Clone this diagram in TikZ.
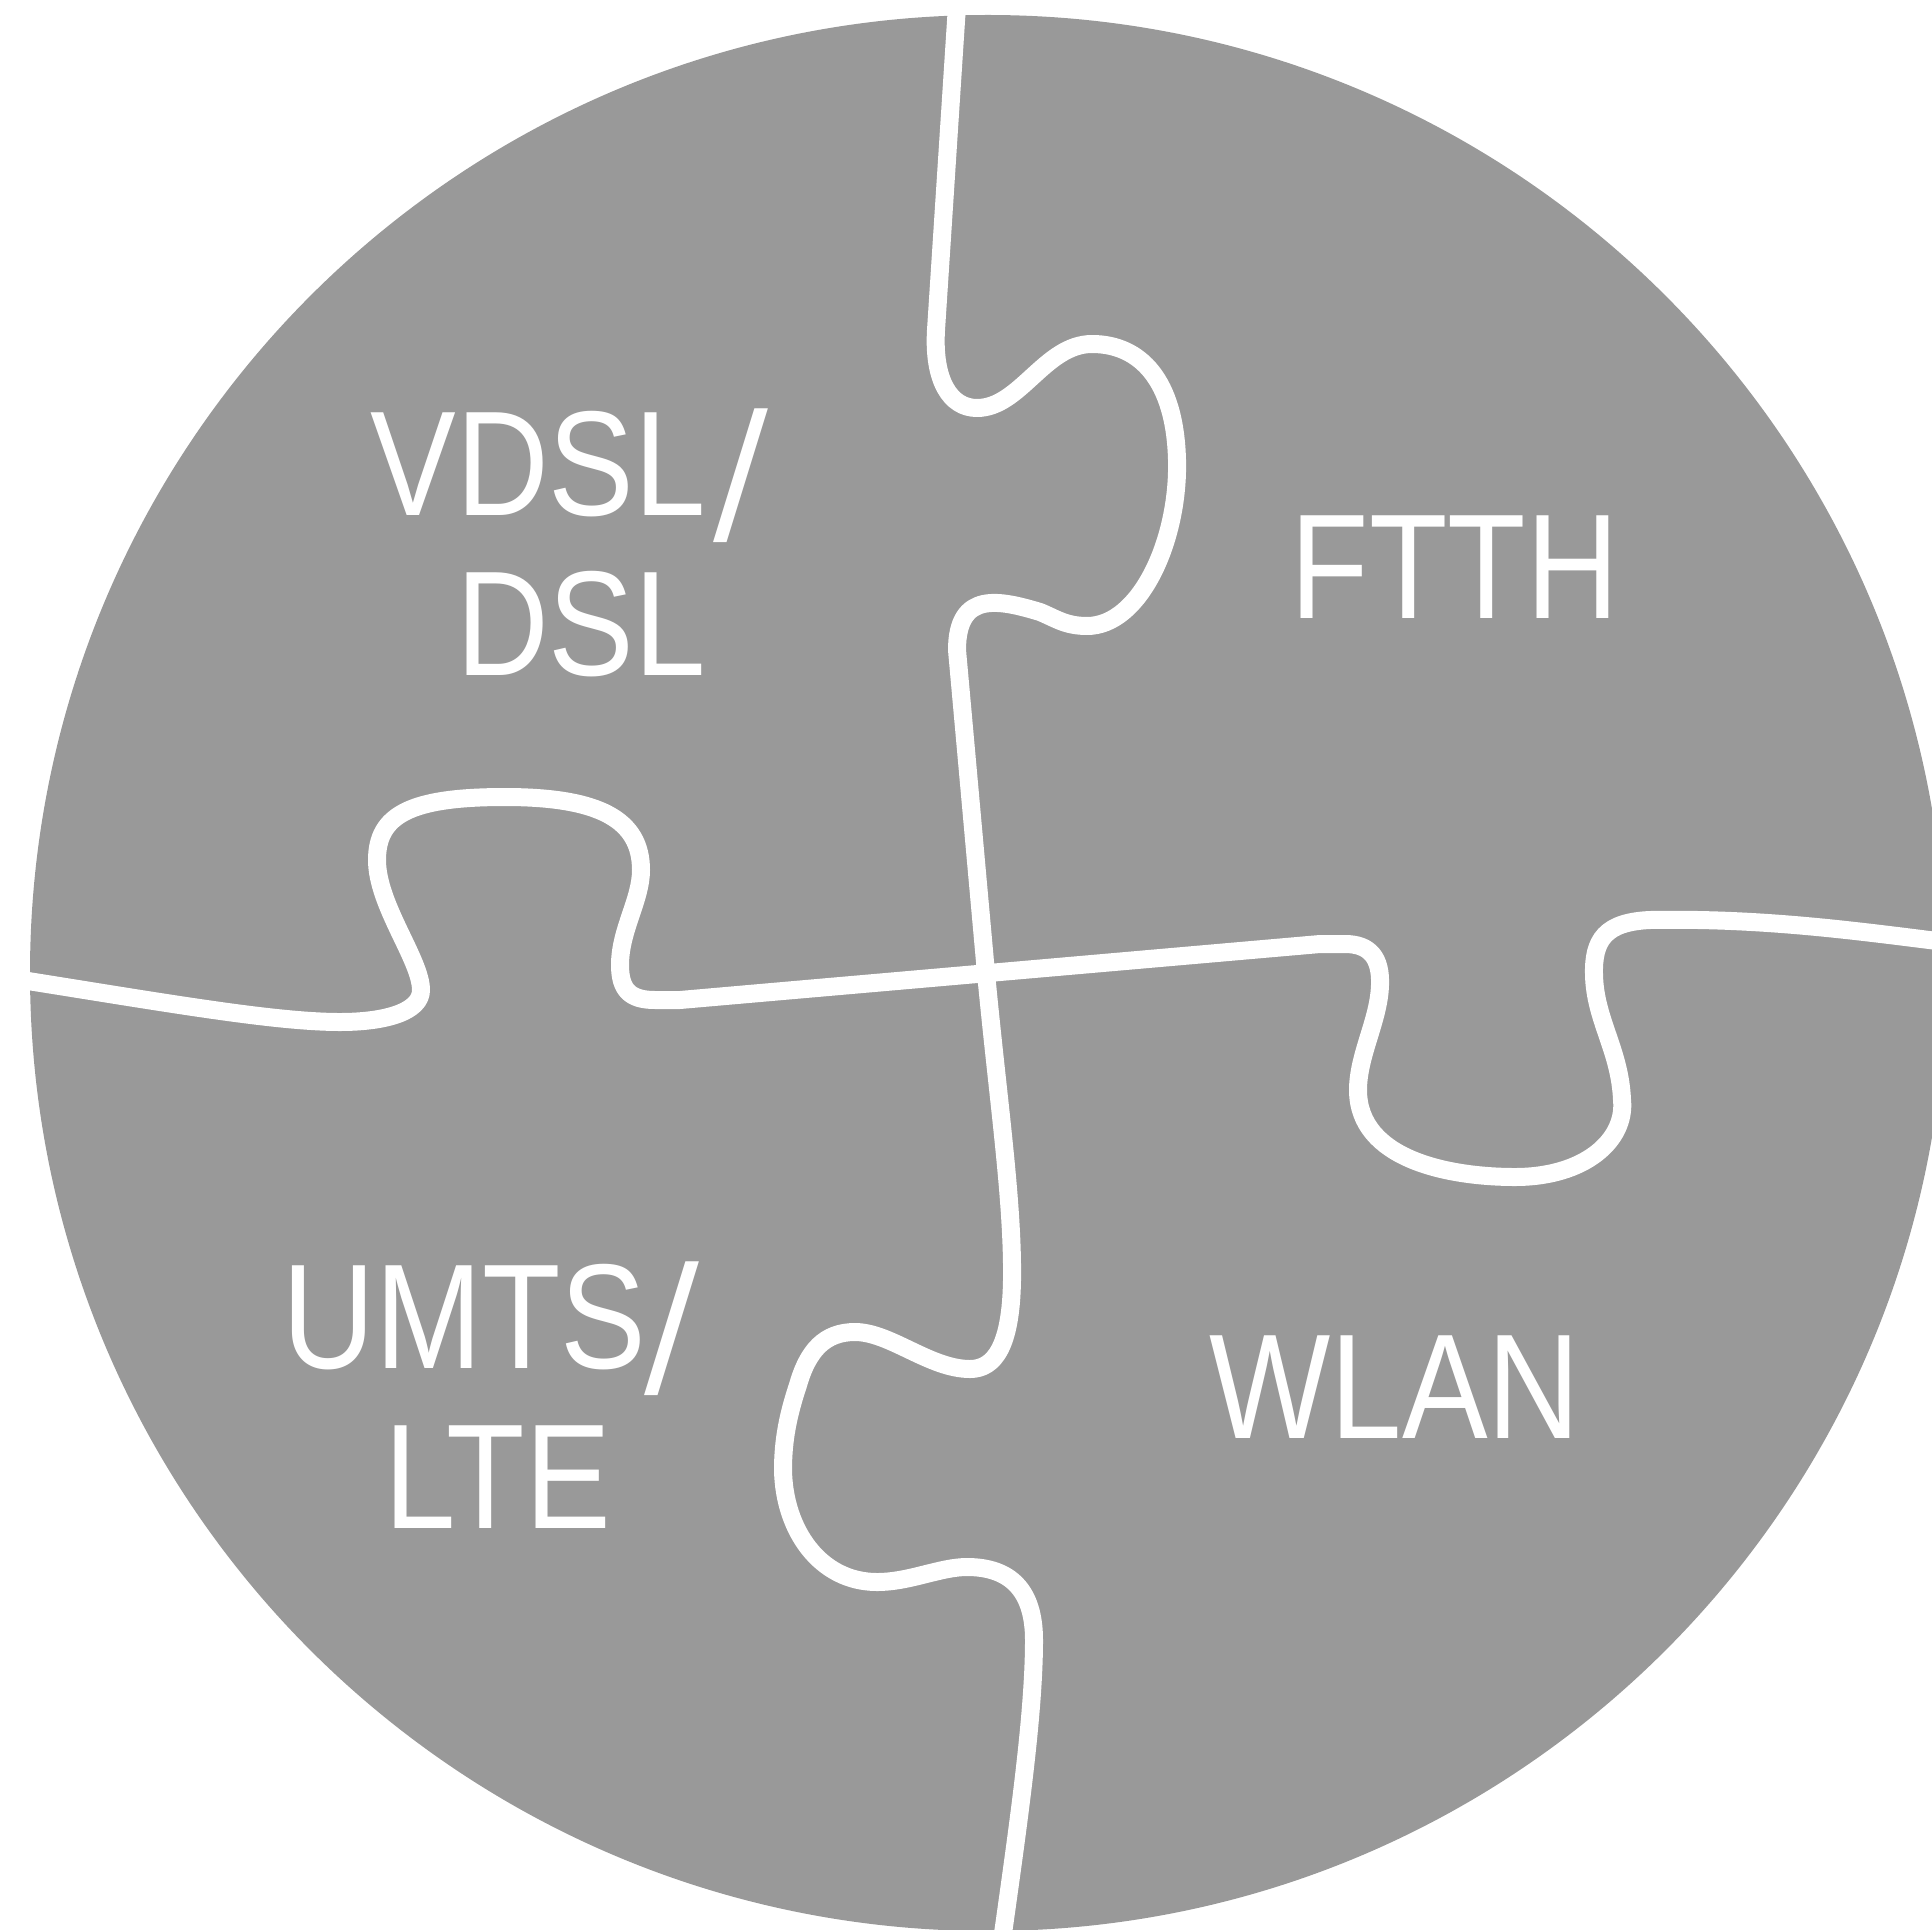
\documentclass[tikz,border=0pt]{standalone}
\usepackage{fontspec}
\usepackage{graphicx}
\newfontfamily\lblfont{Liberation Sans}[FakeStretch=0.86]
\newfontfamily\slfont{DejaVu Sans}
\newcommand{\tallslash}[1]{\kern#1{\slfont\fontsize{92.7}{100}\selectfont\raisebox{-0.24cm}{/}}}
\definecolor{pgray}{RGB}{153,153,153}
\tikzset{
  cut/.style={draw=white, line width=0.36cm, line join=round},
  lbl/.style={text=white, font=\lblfont\fontsize{85}{96}\selectfont, inner sep=0pt, anchor=base}
}
\begin{document}
\begin{tikzpicture}[x=0.02cm, y=-0.02cm]
\useasboundingbox (0,0) rectangle (1932,1929);
\clip (0,0) rectangle (1932,1929);
\fill[pgray] (988,973) circle[radius=958];
% vertical cut (top to bottom)
\draw[cut] (958,-10) -- (936,330)
  .. controls (933,380) and (950,408) .. (977,408)
  .. controls (1020,408) and (1045,344) .. (1092,344)
  .. controls (1140,344) and (1175,380) .. (1177,460)
  .. controls (1179,540) and (1140,626) .. (1087,626)
  .. controls (1065,626) and (1055,618) .. (1040,612)
  .. controls (1000,600) and (957,590) .. (957,650)
  -- (986,973)
  .. controls (998,1100) and (1013,1200) .. (1012,1280)
  .. controls (1011,1345) and (995,1369) .. (970,1369)
  .. controls (930,1369) and (890,1332) .. (855,1332)
  .. controls (825,1332) and (808,1350) .. (798,1385)
  .. controls (788,1415) and (783,1440) .. (783,1470)
  .. controls (784,1530) and (820,1582) .. (877,1582)
  .. controls (910,1582) and (940,1567) .. (967,1567)
  .. controls (1010,1567) and (1034,1590) .. (1034,1640)
  .. controls (1034,1720) and (1016,1840) .. (1000,1955);
% horizontal cut (left to right)
\draw[cut] (-10,975)
  .. controls (150,1000) and (270,1022) .. (340,1022)
  .. controls (385,1022) and (421,1012) .. (421,990)
  .. controls (421,960) and (377,905) .. (377,860)
  .. controls (377,815) and (410,797) .. (505,797)
  .. controls (600,797) and (641,820) .. (641,870)
  .. controls (641,900) and (620,930) .. (620,965)
  .. controls (620,990) and (630,1000) .. (655,1000)
  -- (680,1000) -- (1320,944) -- (1345,944)
  .. controls (1370,944) and (1381,958) .. (1380,985)
  .. controls (1379,1020) and (1358,1055) .. (1358,1090)
  .. controls (1358,1160) and (1450,1177) .. (1515,1177)
  .. controls (1585,1177) and (1626,1140) .. (1622,1100)
  .. controls (1620,1050) and (1595,1020) .. (1594,975)
  .. controls (1593,940) and (1605,922) .. (1650,920)
  .. controls (1760,918) and (1850,930) .. (1945,942);
% labels
\node[lbl, anchor=base west] (vdslA) at (370,515) {VDSL\tallslash{0.16cm}};
\node[lbl] (vdslB) at (581,675) {DSL};
\node[lbl] (ftth) at (1455,618) {FTTH};
\node[lbl, anchor=base west] (umtsA) at (282,1368) {UMTS\tallslash{-0.04cm}};
\node[lbl] (umtsB) at (498,1528) {LTE};
\node[lbl] (wlan) at (1395,1438) {WLAN};
\end{tikzpicture}
\end{document}
